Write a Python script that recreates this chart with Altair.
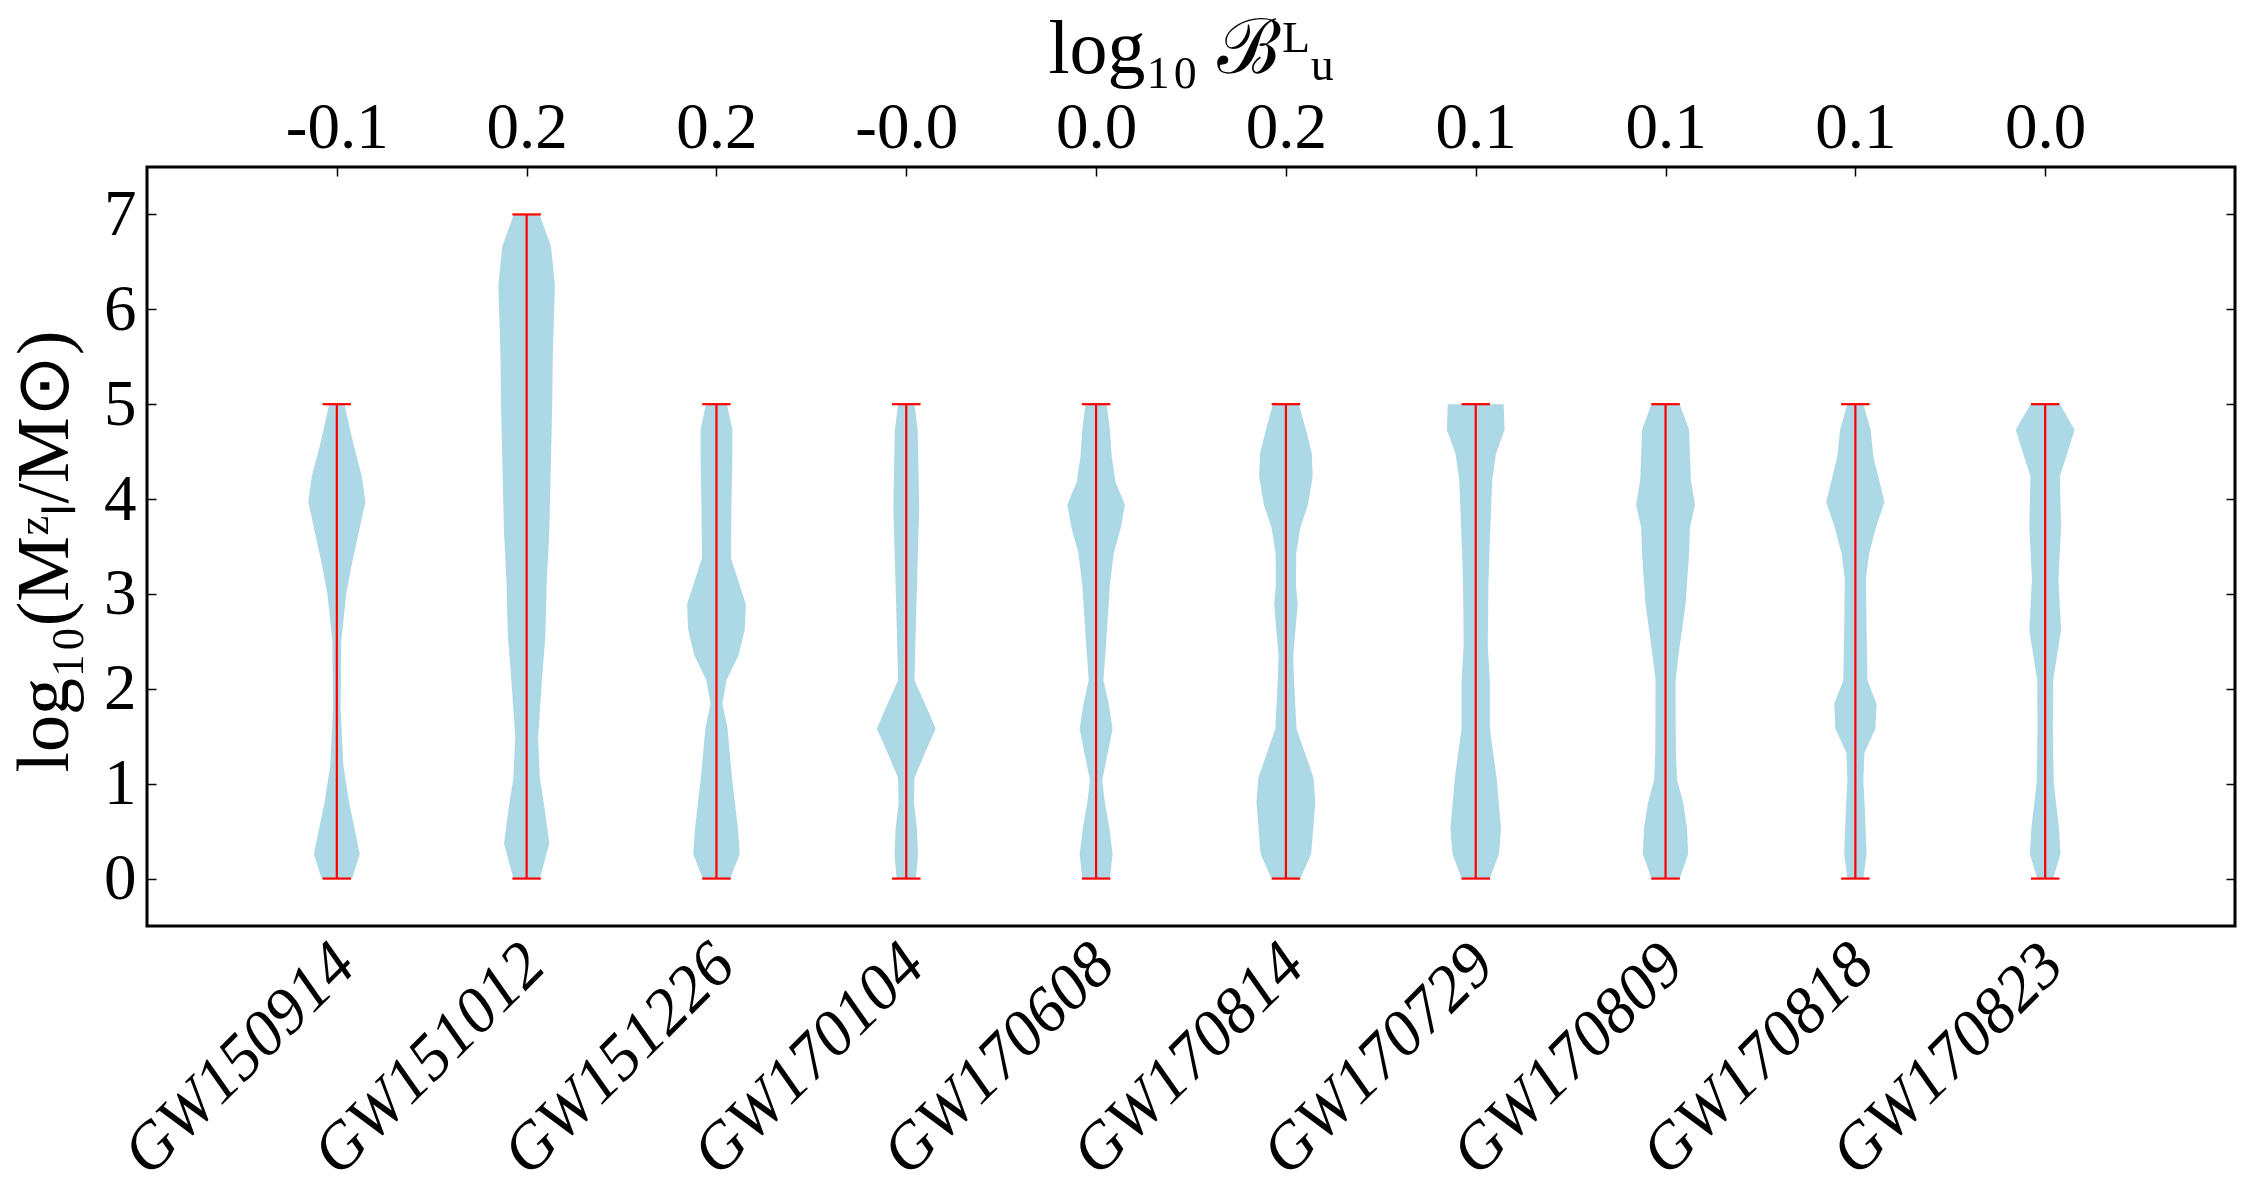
import json

import altair as alt
import pandas as pd

# Gravitational-wave events and their log10 Bayes factors (lensed vs unlensed)
EVENTS = ["GW150914", "GW151012", "GW151226", "GW170104", "GW170608",
          "GW170814", "GW170729", "GW170809", "GW170818", "GW170823"]
LOG_BAYES = ["-0.1", "0.2", "0.2", "-0.0", "0.0", "0.2", "0.1", "0.1", "0.1", "0.0"]

# Prior range of log10(M_L^z / M_sun) for each event
RANGE_MIN = [0, 0, 0, 0, 0, 0, 0, 0, 0, 0]
RANGE_MAX = [5, 7, 5, 5, 5, 5, 5, 5, 5, 5]

# Posterior density profiles (relative to the largest density of all events)
GW150914_Y = [0, 0.26, 0.5, 0.8, 1.2, 1.8, 2.5, 3.0, 3.3, 3.6, 3.97, 4.24, 4.56, 5.0]
GW150914_D = [0.52, 0.78, 0.62, 0.42, 0.22, 0.13, 0.15, 0.32, 0.5, 0.71, 0.97, 0.85, 0.58, 0.26]

GW151012_Y = [0, 0.37, 0.74, 1.06, 1.49, 2.09, 2.57, 3.1, 3.65, 4.45, 4.99, 5.53, 6.25, 6.66, 7.0]
GW151012_D = [0.45, 0.77, 0.61, 0.45, 0.39, 0.52, 0.64, 0.68, 0.77, 0.83, 0.87, 0.89, 0.96, 0.83, 0.44]

GW151226_Y = [0, 0.26, 0.53, 1.06, 1.6, 1.84, 2.09, 2.35, 2.62, 2.89, 3.38, 3.91, 4.45, 4.73, 5.0]
GW151226_D = [0.47, 0.79, 0.73, 0.53, 0.37, 0.2, 0.34, 0.75, 0.96, 1.0, 0.49, 0.51, 0.54, 0.54, 0.36]

GW170104_Y = [0, 0.26, 0.53, 0.8, 1.06, 1.33, 1.58, 1.84, 2.09, 2.84, 3.38, 3.91, 4.72, 5.0]
GW170104_D = [0.33, 0.4, 0.36, 0.26, 0.28, 0.64, 1.0, 0.64, 0.28, 0.34, 0.39, 0.44, 0.39, 0.28]

GW170608_Y = [0, 0.26, 0.53, 0.8, 1.04, 1.33, 1.58, 1.84, 2.09, 2.57, 3.1, 3.43, 3.7, 3.94, 4.18, 4.45, 4.73, 5.0]
GW170608_D = [0.47, 0.56, 0.45, 0.3, 0.21, 0.4, 0.56, 0.43, 0.25, 0.36, 0.47, 0.6, 0.84, 0.98, 0.66, 0.53, 0.47, 0.36]

GW170814_Y = [0, 0.26, 0.8, 1.06, 1.58, 2.14, 2.35, 2.89, 3.1, 3.43, 3.7, 3.94, 4.24, 4.48, 4.73, 5.0]
GW170814_D = [0.49, 0.86, 1.0, 0.94, 0.36, 0.27, 0.25, 0.4, 0.34, 0.35, 0.49, 0.75, 0.91, 0.88, 0.68, 0.44]

GW170729_Y = [0, 0.26, 0.53, 1.06, 1.58, 2.09, 2.46, 3.1, 3.65, 4.2, 4.48, 4.73, 5.0]
GW170729_D = [0.48, 0.79, 0.86, 0.71, 0.48, 0.48, 0.41, 0.43, 0.49, 0.56, 0.69, 0.98, 0.95]

GW170809_Y = [0, 0.26, 0.53, 0.8, 1.04, 1.33, 2.09, 2.35, 2.89, 3.38, 3.7, 3.94, 4.2, 4.73, 5.0]
GW170809_D = [0.48, 0.77, 0.73, 0.6, 0.39, 0.35, 0.34, 0.44, 0.68, 0.79, 0.83, 1.0, 0.86, 0.8, 0.48]

GW170818_Y = [0, 0.26, 0.74, 1.04, 1.33, 1.58, 1.84, 2.09, 2.62, 3.16, 3.43, 3.7, 3.97, 4.45, 4.73, 5.0]
GW170818_D = [0.27, 0.38, 0.32, 0.27, 0.31, 0.68, 0.72, 0.41, 0.38, 0.36, 0.47, 0.7, 0.99, 0.61, 0.52, 0.27]

GW170823_Y = [0, 0.26, 0.53, 1.01, 1.58, 2.09, 2.62, 3.16, 3.7, 4.24, 4.48, 4.73, 5.0]
GW170823_D = [0.27, 0.52, 0.47, 0.29, 0.26, 0.27, 0.54, 0.45, 0.54, 0.5, 0.75, 1.0, 0.5]

PROFILES = [
    (GW150914_Y, GW150914_D), (GW151012_Y, GW151012_D), (GW151226_Y, GW151226_D),
    (GW170104_Y, GW170104_D), (GW170608_Y, GW170608_D), (GW170814_Y, GW170814_D),
    (GW170729_Y, GW170729_D), (GW170809_Y, GW170809_D), (GW170818_Y, GW170818_D),
    (GW170823_Y, GW170823_D),
]

HALF_WIDTH = 0.155   # half of the violin width, in category units
CAP_HALF = 0.075     # half length of the extrema caps

FONT = "Liberation Serif"
POSITIONS = list(range(1, len(EVENTS) + 1))

violin_rows = []
for pos, (ev, (ys, ds)) in zip(POSITIONS, zip(EVENTS, PROFILES)):
    for y, d in zip(ys, ds):
        violin_rows.append({"event": ev, "pos": pos, "y": y,
                            "lo": pos - d * HALF_WIDTH, "hi": pos + d * HALF_WIDTH})
violins_df = pd.DataFrame(violin_rows)

range_df = pd.DataFrame({"event": EVENTS, "pos": POSITIONS,
                         "ymin": RANGE_MIN, "ymax": RANGE_MAX})

cap_rows = []
for pos, lo, hi in zip(POSITIONS, RANGE_MIN, RANGE_MAX):
    for v in (lo, hi):
        cap_rows.append({"c_lo": pos - CAP_HALF, "c_hi": pos + CAP_HALF, "yv": v})
caps_df = pd.DataFrame(cap_rows)

x_scale = alt.Scale(domain=[0, 11], nice=False, zero=False)
y_scale = alt.Scale(domain=[-0.5, 7.5], nice=False, zero=False)

bottom_axis = alt.Axis(
    orient="bottom", values=POSITIONS, title=None,
    labelExpr=f"{json.dumps(EVENTS)}[datum.value - 1]",
    ticks=False, tickSize=0, domain=False, grid=False,
    labelAngle=-45, labelAlign="right", labelBaseline="top",
    labelPadding=6, labelOffset=-15,
    labelFont=FONT, labelFontStyle="italic", labelFontSize=65, labelColor="black",
    labelOverlap=False, labelFlush=False, labelLimit=2000,
)

left_axis = alt.Axis(
    orient="left", values=list(range(0, 8)), format="d",
    offset=-9, tickSize=9, tickWidth=1.5, tickColor="black",
    domain=False, grid=False,
    labelPadding=11, labelFont=FONT, labelFontSize=65, labelColor="black",
    labelOverlap=False,
    title="log₁₀(Mᶻₗ/M⊙)", titleFont=FONT, titleFontSize=74,
    titleFontWeight="normal", titleColor="black",
    titleX=-89, titleY=384, titleAngle=270,
    titleAlign="center", titleBaseline="alphabetic", titleLimit=2000,
)

top_axis = alt.Axis(
    orient="top", values=POSITIONS,
    labelExpr=f"{json.dumps(LOG_BAYES)}[datum.value - 1]",
    offset=-9, tickSize=9, tickWidth=1.5, tickColor="black",
    domain=False, grid=False,
    labelPadding=20, labelBaseline="alphabetic",
    labelFont=FONT, labelFontSize=65, labelColor="black",
    labelOverlap=False, labelFlush=False,
    title="log₁₀ ℬᴸᵤ", titleFont=FONT, titleFontSize=76,
    titleFontWeight="normal", titleColor="black",
    titleX=1044, titleY=-104, titleAngle=0,
    titleAlign="center", titleBaseline="alphabetic", titleLimit=2000,
)

right_axis = alt.Axis(
    orient="right", values=list(range(0, 8)),
    offset=-9, tickSize=9, tickWidth=1.5, tickColor="black",
    labels=False, domain=False, grid=False, title=None,
)

violins = alt.Chart(violins_df).mark_area(
    orient="horizontal", color="#add8e6", opacity=1, interpolate="linear"
).encode(
    y=alt.Y("y:Q", scale=y_scale, axis=left_axis),
    x=alt.X("lo:Q", scale=x_scale, axis=bottom_axis),
    x2="hi:Q",
    detail="event:N",
)

whiskers = alt.Chart(range_df).mark_rule(color="red", strokeWidth=2.2).encode(
    x=alt.X("pos:Q", scale=x_scale, axis=top_axis),
    y=alt.Y("ymin:Q", scale=y_scale, axis=right_axis),
    y2="ymax:Q",
)

caps = alt.Chart(caps_df).mark_rule(color="red", strokeWidth=2.2).encode(
    x=alt.X("c_lo:Q", scale=x_scale, axis=None),
    x2="c_hi:Q",
    y=alt.Y("yv:Q", scale=y_scale, axis=None),
)

chart = (
    alt.layer(violins, whiskers, caps)
    .resolve_axis(x="independent", y="independent")
    .properties(
        width=2088, height=759,
        autosize=alt.AutoSizeParams(type="none"),
        padding={"left": 147, "top": 167, "right": 15, "bottom": 274},
        background="white",
    )
    .configure(font=FONT)
    .configure_axisBottom(labelFontStyle="italic")
    .configure_view(stroke="black", strokeWidth=3)
)

chart.save("out.html", embed_options={"renderer": "svg", "actions": False})
